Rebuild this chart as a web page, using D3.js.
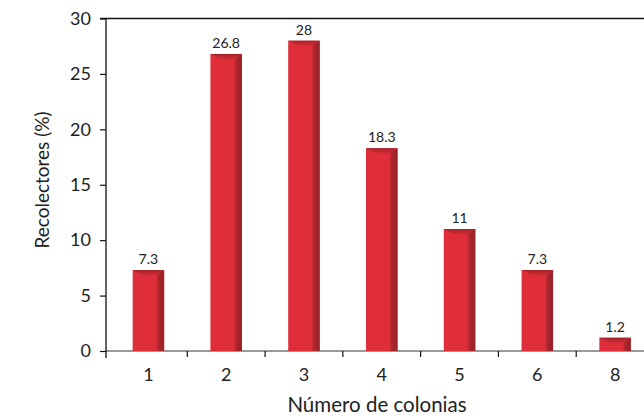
<!DOCTYPE html>
<html>
<head>
<meta charset="utf-8">
<script src="https://cdn.jsdelivr.net/npm/d3@7/dist/d3.min.js"></script>
<style>
  html, body { margin: 0; padding: 0; background: #fff; }
  svg { display: block; }
  text { font-family: Lato, "Open Sans", sans-serif; fill: #222; }
</style>
</head>
<body>
<svg id="chart" width="644" height="416"></svg>
<script>
// Number of colonies visited and share of foragers (%)
const categories = ["1", "2", "3", "4", "5", "6", "8"];
const values = [7.3, 26.8, 28, 18.3, 11, 7.3, 1.2];
const valueLabels = ["7.3", "26.8", "28", "18.3", "11", "7.3", "1.2"];
const yTicks = [0, 5, 10, 15, 20, 25, 30];
const xTitle = "Número de colonias";
const yTitle = "Recolectores (%)";

const W = 644, H = 416;
const axisX = 106, rightX = 644;
const svg = d3.select("#chart");

const y = d3.scaleLinear().domain([0, 30]).range([351, 18.5]);
const x = d3.scaleBand().domain(categories).range([109.5, 654]).padding(0);
const barW = x.bandwidth() * 0.405;

// gradients for the bevelled bar sides
const defs = svg.append("defs");
const gSide = defs.append("linearGradient").attr("id", "side").attr("x1", 0).attr("x2", 1).attr("y1", 0).attr("y2", 0);
gSide.append("stop").attr("offset", "0%").attr("stop-color", "#c42a33");
gSide.append("stop").attr("offset", "45%").attr("stop-color", "#a3242b");
gSide.append("stop").attr("offset", "100%").attr("stop-color", "#9a2329");
const gTop = defs.append("linearGradient").attr("id", "top").attr("x1", 0).attr("x2", 0).attr("y1", 0).attr("y2", 1);
gTop.append("stop").attr("offset", "0%").attr("stop-color", "#a3242b");
gTop.append("stop").attr("offset", "100%").attr("stop-color", "#d02b36");

// top frame line at 30
svg.append("line")
  .attr("x1", axisX - 6).attr("x2", rightX)
  .attr("y1", y(30)).attr("y2", y(30))
  .attr("stroke", "#111").attr("stroke-width", 1.3);

// x baseline
svg.append("line")
  .attr("x1", axisX).attr("x2", rightX)
  .attr("y1", y(0)).attr("y2", y(0))
  .attr("stroke", "#777").attr("stroke-width", 1.5);

// bars
const bars = svg.append("g").selectAll("g").data(values).join("g")
  .attr("transform", (d, i) => `translate(${x(categories[i]) + x.bandwidth() / 2 - barW / 2},0)`);

bars.append("rect")
  .attr("x", 0).attr("width", barW)
  .attr("y", d => y(d)).attr("height", d => y(0) - y(d))
  .attr("fill", "#df2d3a");

const sideW = 7.5, topH = 5;
bars.append("path")
  .attr("fill", "url(#side)")
  .attr("d", d => {
    const t = y(d), b = y(0), th = Math.min(topH, (b - t) / 2);
    return `M${barW - sideW},${t + th} L${barW},${t} L${barW},${b} L${barW - sideW},${b} Z`;
  });
bars.append("path")
  .attr("fill", "url(#top)")
  .attr("d", d => {
    const t = y(d), b = y(0), th = Math.min(topH, (b - t) / 2);
    return `M0,${t} L${barW},${t} L${barW - sideW},${t + th} L${th * 2},${t + th} Z`;
  });

// value labels
svg.append("g").selectAll("text").data(values).join("text")
  .attr("x", (d, i) => x(categories[i]) + x.bandwidth() / 2)
  .attr("y", d => y(d) - 6)
  .attr("text-anchor", "middle")
  .attr("font-size", 14)
  .text((d, i) => valueLabels[i]);

// y axis
const yAxis = svg.append("g")
  .attr("transform", `translate(${axisX},0)`)
  .call(d3.axisLeft(y).tickValues(yTicks).tickSize(6).tickPadding(9).tickFormat(d3.format("d")));
yAxis.select(".domain").remove();
yAxis.selectAll(".tick line").attr("stroke", "#111").attr("stroke-width", 1.2);
yAxis.selectAll(".tick text").attr("font-size", 18).attr("fill", "#222")
  .attr("font-family", "Lato, 'Open Sans', sans-serif");
svg.append("line")
  .attr("x1", axisX).attr("x2", axisX)
  .attr("y1", y(30)).attr("y2", y(0) + 7)
  .attr("stroke", "#111").attr("stroke-width", 1.3);

// x ticks between categories
const xTickPos = categories.slice(1).map(c => x(c));
svg.append("g").selectAll("line").data(xTickPos).join("line")
  .attr("x1", d => d).attr("x2", d => d)
  .attr("y1", y(0)).attr("y2", y(0) + 6)
  .attr("stroke", "#111").attr("stroke-width", 1.2);

// x category labels
svg.append("g").selectAll("text").data(categories).join("text")
  .attr("x", d => x(d) + x.bandwidth() / 2)
  .attr("y", 381)
  .attr("text-anchor", "middle")
  .attr("font-size", 18)
  .text(d => d);

// axis titles
svg.append("text")
  .attr("x", 377).attr("y", 411.5)
  .attr("text-anchor", "middle")
  .attr("font-size", 20.5)
  .text(xTitle);
svg.append("text")
  .attr("transform", `translate(49,180) rotate(-90)`)
  .attr("text-anchor", "middle")
  .attr("font-size", 19)
  .text(yTitle);
</script>
</body>
</html>
